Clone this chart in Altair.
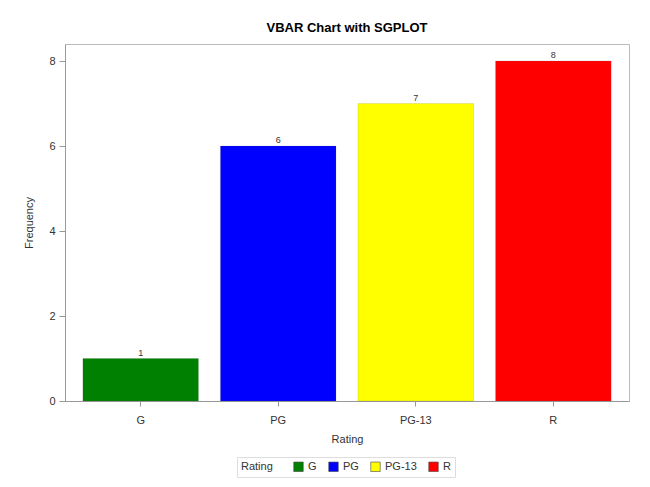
import altair as alt
import pandas as pd

ratings = ["G", "PG", "PG-13", "R"]
counts = [1, 6, 7, 8]
colors = ["#008000", "#0000ff", "#ffff00", "#ff0000"]

df = pd.DataFrame({"Rating": ratings, "Frequency": counts})

x = alt.X("Rating:N", sort=ratings,
          scale=alt.Scale(paddingInner=0.16, paddingOuter=0.13),
          axis=alt.Axis(title="Rating", labelAngle=0, labelPadding=8, titlePadding=8,
                        tickSize=5, labelFontSize=11, titleFontSize=11))
y = alt.Y("Frequency:Q", scale=alt.Scale(domain=[0, 8.4], nice=False),
          axis=alt.Axis(title="Frequency", values=[0, 2, 4, 6, 8], tickSize=6,
                        labelPadding=4, titlePadding=14, grid=False,
                        labelFontSize=11, titleFontSize=11))

bars = alt.Chart(df).mark_bar(stroke="#555555", strokeWidth=0.3, strokeOpacity=0.5).encode(
    x=x, y=y,
    color=alt.Color("Rating:N", sort=ratings,
                    scale=alt.Scale(domain=ratings, range=colors),
                    legend=alt.Legend(orient="none", legendX=172, legendY=413,
                                      direction="horizontal",
                                      title="Rating", titleOrient="left",
                                      symbolType="square", symbolSize=90,
                                      symbolStrokeColor="#444444", symbolStrokeWidth=0.6,
                                      strokeColor="#dddddd", padding=4,
                                      labelFontSize=11, titleFontSize=11,
                                      titleFontWeight="normal", columnPadding=10,
                                      titlePadding=20, labelOffset=4))
)

labels = alt.Chart(df).mark_text(dy=-6, fontSize=9, color="#333333", font="Liberation Sans").encode(
    x=alt.X("Rating:N", sort=ratings), y="Frequency:Q", text="Frequency:Q"
)

chart = (bars + labels).properties(
    width=564, height=357,
    title=alt.TitleParams("VBAR Chart with SGPLOT", fontSize=13, fontWeight="bold",
                          font="Liberation Sans", color="#000000", offset=9, anchor="middle"),
    autosize=alt.AutoSizeParams(type="none"),
    padding={"left": 57, "top": 36, "right": 13, "bottom": 78},
).configure(font="Liberation Sans", background="white").configure_view(
    stroke="#bbbbbb", strokeWidth=1
).configure_axis(
    domainColor="#999999", tickColor="#999999", labelColor="#333333", titleColor="#333333",
    titleFontWeight="normal"
).configure_legend(labelColor="#333333", titleColor="#333333")

chart.save("out.html", embed_options={"renderer": "svg", "actions": False})
